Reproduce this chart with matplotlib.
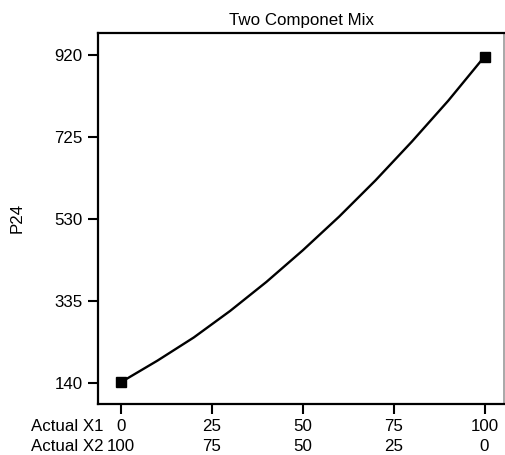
import matplotlib
matplotlib.use("Agg")
import matplotlib.pyplot as plt
from matplotlib import transforms

plt.rcParams['font.family'] = ['Liberation Sans', 'DejaVu Sans']

# Mixture response: X1 share (X2 = 100 - X1) and predicted P24
x1 = [0, 10, 20, 30, 40, 50, 60, 70, 80, 90, 100]
p24 = [143, 194, 249, 312, 381, 456, 536, 622, 714, 811, 916]

x1_ticks = [0, 25, 50, 75, 100]
x2_ticks = [100, 75, 50, 25, 0]
y_ticks = [140, 335, 530, 725, 920]

title = "Two Componet Mix"
y_label = "P24"
row_labels = ["Actual X1", "Actual X2"]

W, H, DPI = 506, 455, 100
fig = plt.figure(figsize=(W / DPI, H / DPI), dpi=DPI)
ax = fig.add_axes([98 / W, 1 - 404 / H, (504.5 - 98) / W, (404 - 33) / H])

fs = 12.2
lsp = 1.38
ax.plot(x1, p24, color='black', lw=1.7, solid_capstyle='round')
ax.plot([x1[0], x1[-1]], [p24[0], p24[-1]], linestyle='none', marker='s',
        markersize=7.5, color='black')

ax.set_xlim(-6.36, 105.5)
ax.set_ylim(91, 972)

ax.set_xticks(x1_ticks)
ax.set_xticklabels([f"{a}\n{b}" for a, b in zip(x1_ticks, x2_ticks)], fontsize=fs,
                   linespacing=lsp)
ax.set_yticks(y_ticks)
ax.set_yticklabels([str(v) for v in y_ticks], fontsize=fs)

tick_len, tick_pad = 7.5, 3.5
ax.tick_params(axis='both', direction='out', length=tick_len, width=1.5,
               color='black')
ax.tick_params(axis='x', pad=tick_pad)
ax.tick_params(axis='y', pad=3.5)

for side in ('left', 'bottom', 'top'):
    ax.spines[side].set_linewidth(1.6)
    ax.spines[side].set_color('black')
ax.spines['right'].set_linewidth(1.2)
ax.spines['right'].set_color('#9a9a9a')

ax.set_title(title, fontsize=fs, pad=5.8)

fig.text(17 / W, 1 - 218 / H, y_label, rotation=90, ha='center', va='center',
         fontsize=fs)

# Row captions for the two-row component axis, aligned with tick labels
trans = transforms.blended_transform_factory(fig.transFigure, ax.transAxes) + \
    transforms.ScaledTranslation(0, -(tick_len + tick_pad) / 72, fig.dpi_scale_trans)
ax.text(31 / W, 0, "\n".join(row_labels), transform=trans, ha='left', va='top',
        fontsize=fs, linespacing=lsp, clip_on=False)

fig.savefig("out.png", dpi=DPI)
